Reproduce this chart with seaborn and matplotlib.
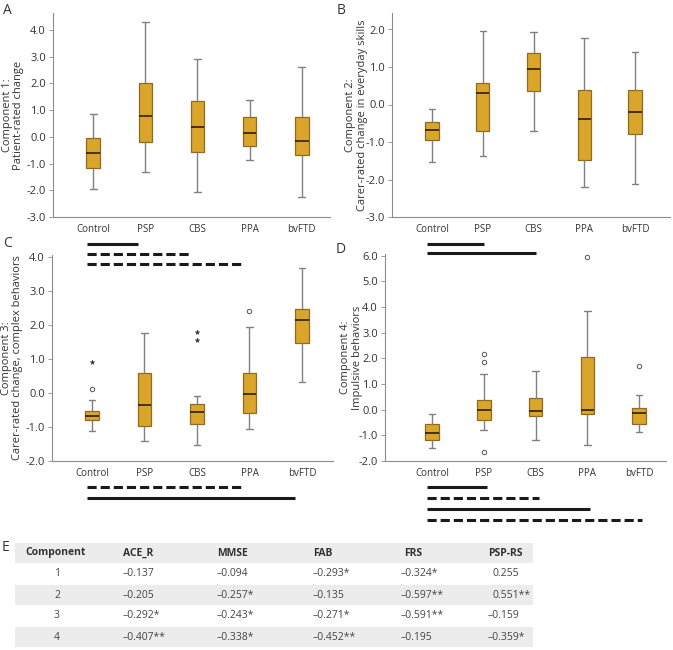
import numpy as np
import pandas as pd
import matplotlib
matplotlib.use('Agg')
import matplotlib.pyplot as plt
import matplotlib.transforms as mtransforms
from matplotlib.patches import Rectangle
import seaborn as sns

sns.set_style('ticks')
plt.rcParams['font.family'] = ['Open Sans', 'DejaVu Sans']
plt.rcParams['axes.unicode_minus'] = False

# groups on the x axis
groups = ['Control', 'PSP', 'CBS', 'PPA', 'bvFTD']

# five-number summaries: whisker low, Q1, median, Q3, whisker high
comp1 = [[-1.97, -1.18, -0.62, -0.04, 0.86],
         [-1.33, -0.20, 0.80, 2.03, 4.29],
         [-2.05, -0.55, 0.38, 1.35, 2.93],
         [-0.85, -0.35, 0.16, 0.73, 1.40],
         [-2.25, -0.66, -0.15, 0.74, 2.61]]
comp2 = [[-1.54, -0.95, -0.68, -0.47, -0.12],
         [-1.36, -0.70, 0.30, 0.58, 1.96],
         [-0.70, 0.36, 0.95, 1.37, 1.93],
         [-2.19, -1.48, -0.39, 0.40, 1.76],
         [-2.12, -0.79, -0.20, 0.40, 1.40]]
comp3 = [[-1.13, -0.80, -0.66, -0.53, -0.20],
         [-1.42, -0.96, -0.35, 0.58, 1.76],
         [-1.54, -0.90, -0.55, -0.32, -0.09],
         [-1.05, -0.60, -0.03, 0.60, 1.94],
         [0.33, 1.47, 2.14, 2.47, 3.70]]
comp4 = [[-1.50, -1.19, -0.90, -0.55, -0.17],
         [-0.81, -0.41, 0.00, 0.36, 1.38],
         [-1.20, -0.23, -0.07, 0.47, 1.50],
         [-1.38, -0.15, -0.03, 2.06, 3.86],
         [-0.87, -0.57, -0.13, 0.05, 0.57]]

# outliers (circles) and extremes (stars)
comp3_circles = [('Control', 0.13), ('PPA', 2.43)]
comp3_stars = [('Control', 0.93), ('CBS', 1.79), ('CBS', 1.56)]
comp4_circles = [('PSP', 2.19), ('PSP', 1.85), ('PSP', -1.64), ('PPA', 5.97), ('bvFTD', 1.69)]

# significant pairwise differences (solid / dashed)
sig_c_above = [('Control', 'PSP', 'solid'), ('Control', 'CBS', 'dashed'), ('Control', 'PPA', 'dashed')]
sig_c_below = [('Control', 'PPA', 'dashed'), ('Control', 'bvFTD', 'solid')]
sig_d_above = [('Control', 'PSP', 'solid'), ('Control', 'CBS', 'solid')]
sig_d_below = [('Control', 'PSP', 'solid'), ('Control', 'CBS', 'dashed'),
               ('Control', 'PPA', 'solid'), ('Control', 'bvFTD', 'dashed')]

# table E
table_cols = ['Component', 'ACE_R', 'MMSE', 'FAB', 'FRS', 'PSP-RS']
table_rows = ['1', '2', '3', '4']
ace_r = ['–0.137', '–0.205', '–0.292*', '–0.407**']
mmse = ['–0.094', '–0.257*', '–0.243*', '–0.338*']
fab = ['–0.293*', '–0.135', '–0.271*', '–0.452**']
frs = ['–0.324*', '–0.597**', '–0.591**', '–0.195']
psp_rs = ['0.255', '0.551**', '–0.159', '–0.359*']

W, H = 673, 650
box_fill = '#DAA52B'
box_edge = '#8E6B20'
whisk_col = '#808080'
median_col = '#3A2908'
txt_col = '#333333'

fig = plt.figure(figsize=(W / 100, H / 100), dpi=100)


def px_rect(left, top, right, bottom):
    return [left / W, 1 - bottom / H, (right - left) / W, (bottom - top) / H]


def draw_panel(rect, stats, ylim, yticks, xlim, ylabel, label_x):
    ax = fig.add_axes(rect)
    df = pd.DataFrame({'group': np.repeat(groups, 5), 'value': np.ravel(stats)})
    sns.boxplot(data=df, x='group', y='value', order=groups, ax=ax,
                width=0.26, whis=(0, 100), saturation=1, showfliers=False,
                color=box_fill, linecolor=box_edge, linewidth=0.9,
                boxprops=dict(facecolor=box_fill, edgecolor=box_edge, linewidth=0.9),
                medianprops=dict(color=median_col, linewidth=1.3),
                whiskerprops=dict(color=whisk_col, linewidth=1.0),
                capprops=dict(color=whisk_col, linewidth=1.0))
    ax.set_xlim(xlim)
    ax.set_ylim(ylim)
    ax.set_yticks(yticks)
    ax.yaxis.set_major_formatter('{x:.1f}')
    ax.set_xlabel('')
    ax.set_ylabel(ylabel, fontsize=8, color=txt_col, linespacing=1.05)
    ax.yaxis.set_label_coords(label_x, 0.5)
    sns.despine(ax=ax)
    for s in ['left', 'bottom']:
        ax.spines[s].set_color('#8c8c8c')
        ax.spines[s].set_linewidth(0.8)
    ax.tick_params(axis='y', labelsize=8, colors=txt_col, length=3, width=0.6, color='#8c8c8c', pad=2)
    ax.tick_params(axis='x', labelsize=7, colors=txt_col, length=0, pad=5)
    return ax


def draw_outliers(ax, points, marker):
    xs = [groups.index(g) for g, _ in points]
    ys = [v for _, v in points]
    if marker == 'o':
        ax.plot(xs, ys, 'o', ms=3.2, mfc='white', mec='#555555', mew=0.7, clip_on=False)
    else:
        ax.plot(xs, ys, '*', ms=3.5, color='#333333', mew=0.3, clip_on=False)


def draw_sig(ax, pairs, y0, step, end_off):
    trans = mtransforms.blended_transform_factory(ax.transData, fig.transFigure)
    for k, (a, b, style) in enumerate(pairs):
        y = 1 - (y0 + k * step) / H
        ls = '-' if style == 'solid' else (0, (3.0, 1.3))
        ax.plot([groups.index(a) - 0.1, groups.index(b) + end_off], [y, y],
                transform=trans, clip_on=False, color='#1a1a1a', lw=2.2,
                linestyle=ls, solid_capstyle='butt', dash_capstyle='butt')


axA = draw_panel(px_rect(53, 13, 330, 217), comp1, (-3.0, 4.64), np.arange(-3, 5),
                 (-0.77, 4.54), 'Component 1:\nPatient-rated change', -0.105)
axB = draw_panel(px_rect(392, 13, 670, 217), comp2, (-3.0, 2.44), np.arange(-3, 3),
                 (-0.79, 4.69), 'Component 2:\nCarer-rated change in everyday skills', -0.088)
axC = draw_panel(px_rect(52, 255, 333, 461), comp3, (-2.0, 4.07), np.arange(-2, 5),
                 (-0.76, 4.59), 'Component 3:\nCarer-rated change, complex behaviors', -0.103)
axD = draw_panel(px_rect(385, 254, 666, 461), comp4, (-2.0, 6.07), np.arange(-2, 7),
                 (-0.91, 4.52), 'Component 4:\nImpulsive behaviors', -0.08)

draw_outliers(axC, comp3_circles, 'o')
draw_outliers(axC, comp3_stars, '*')
draw_outliers(axD, comp4_circles, 'o')

draw_sig(axC, sig_c_above, 244, 10, -0.13)
draw_sig(axC, sig_c_below, 487, 11, -0.13)
draw_sig(axD, sig_d_above, 244, 9, 0.0)
draw_sig(axD, sig_d_below, 487, 11, 0.06)

for letter, x, y in [('A', 3, 3), ('B', 337, 3), ('C', 3, 236), ('D', 336, 242), ('E', 2, 540)]:
    fig.text(x / W, 1 - y / H, letter, fontsize=10, color=txt_col, va='top', ha='left')

# table E
axT = fig.add_axes([0, 0, 1, 1], zorder=-1)
axT.set_xlim(0, W)
axT.set_ylim(H, 0)
axT.axis('off')
row_y = [553, 574, 595, 616, 637]
col_x = [25, 123, 217, 313, 404, 488]
for k in [0, 2, 4]:
    axT.add_patch(Rectangle((15, row_y[k] - 10), 518, 20, facecolor='#ececec', lw=0))
for j, name in enumerate(table_cols):
    axT.text(col_x[j], row_y[0], name, fontsize=7.5, fontweight='bold',
             color=txt_col, va='center', ha='left')
for i, r in enumerate(table_rows):
    y = row_y[i + 1]
    axT.text(57, y, r, fontsize=7.5, color='#444444', va='center', ha='center')
    for j, col in enumerate([ace_r, mmse, fab, frs, psp_rs]):
        v = col[i]
        x = col_x[j + 1] + (0 if v.startswith('–') else 4.5)
        if j == 3:
            x -= 3
        axT.text(x, y, v, fontsize=7.5, color='#444444', va='center', ha='left')

fig.savefig('out.png', dpi=100)
